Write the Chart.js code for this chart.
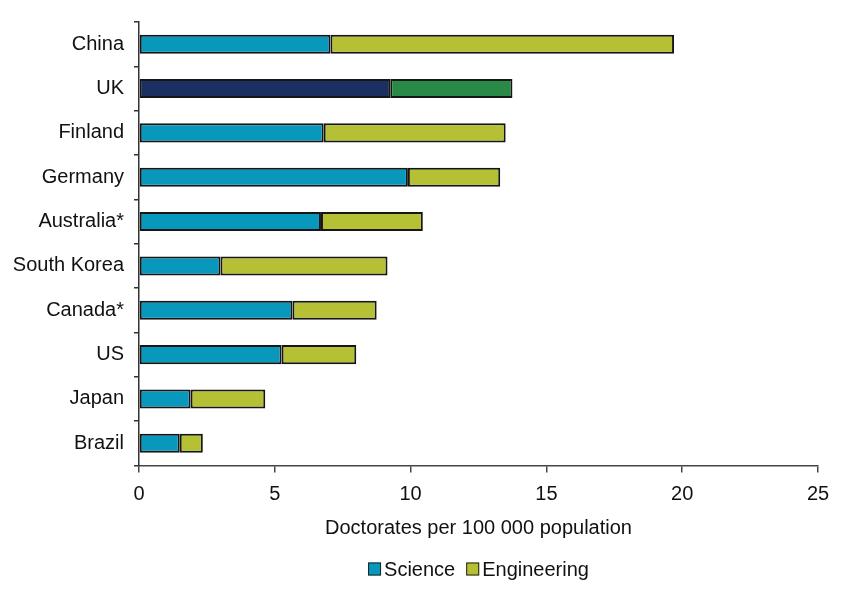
<!DOCTYPE html>
<html>
<head>
<meta charset="utf-8">
<script src="https://cdn.jsdelivr.net/npm/chart.js@4"></script>
<style>
  html, body { margin: 0; padding: 0; background: #fff; }
  #wrap { width: 849px; height: 590px; position: relative; }
</style>
</head>
<body>
<div id="wrap"><canvas id="chart"></canvas></div>
<script>
// data
const countries = ['China', 'UK', 'Finland', 'Germany', 'Australia*', 'South Korea', 'Canada*', 'US', 'Japan', 'Brazil'];
const science = [7.05, 9.25, 6.8, 9.9, 6.7, 3.0, 5.65, 5.25, 1.9, 1.5];
const engineering = [12.65, 4.5, 6.7, 3.4, 3.75, 6.15, 3.1, 2.75, 2.75, 0.85];
const xTicks = [0, 5, 10, 15, 20, 25];

const scienceColor = '#0898bb';
const engineeringColor = '#b5c035';
// the UK bar is highlighted in other colours
const ukScience = '#1b2f62';
const ukEngineering = '#288a46';

const FONT = '"Liberation Sans", Arial, sans-serif';
const TEXT = '#111';
const SIZE = 20;

function colorsFor(base, uk) {
  return countries.map(c => c === 'UK' ? uk : base);
}

// legend drawn by hand so it sits under the plot centre with tight spacing
const bottomLegend = {
  id: 'bottomLegend',
  afterDraw(chart) {
    const ctx = chart.ctx;
    const area = chart.chartArea;
    const items = chart.data.datasets.map(ds => ({ text: ds.label, color: ds.legendColor }));
    const box = 13, gap = 3, itemGap = 11, y = 569;
    ctx.save();
    ctx.font = SIZE + 'px ' + FONT;
    let total = 0;
    items.forEach((it, i) => {
      it.w = ctx.measureText(it.text).width;
      total += box + gap + it.w + (i ? itemGap : 0);
    });
    let x = (area.left + area.right) / 2 - total / 2;
    ctx.textBaseline = 'middle';
    items.forEach((it, i) => {
      if (i) x += itemGap;
      ctx.fillStyle = it.color;
      ctx.fillRect(x, y - box / 2, box, box);
      ctx.strokeStyle = '#222';
      ctx.lineWidth = 1;
      ctx.strokeRect(x + 0.5, y - box / 2 + 0.5, box - 1, box - 1);
      ctx.fillStyle = TEXT;
      ctx.fillText(it.text, x + box + gap, y + 1);
      x += box + gap + it.w;
    });
    ctx.restore();
  }
};

new Chart(document.getElementById('chart'), {
  type: 'bar',
  data: {
    labels: countries,
    datasets: [{
      label: 'Science',
      data: science,
      backgroundColor: colorsFor(scienceColor, ukScience),
      legendColor: scienceColor
    }, {
      label: 'Engineering',
      data: engineering,
      backgroundColor: colorsFor(engineeringColor, ukEngineering),
      legendColor: engineeringColor
    }]
  },
  options: {
    indexAxis: 'y',
    responsive: true,
    maintainAspectRatio: false,
    animation: false,
    devicePixelRatio: 1,
    layout: { padding: { top: 21, right: 31, left: 0, bottom: 0 } },
    datasets: {
      bar: {
        categoryPercentage: 1,
        barPercentage: 0.43,
        borderColor: '#161616',
        borderWidth: 2,
        borderSkipped: false
      }
    },
    plugins: {
      legend: { display: false },
      tooltip: { enabled: false }
    },
    scales: {
      x: {
        stacked: true,
        min: 0,
        max: 25,
        afterBuildTicks: axis => { axis.ticks = xTicks.map(v => ({ value: v })); },
        afterFit: axis => { axis.height = 124.5; },
        grid: { drawOnChartArea: false, tickLength: 7, color: '#444', lineWidth: 1.5 },
        border: { color: '#444', width: 1.5 },
        ticks: { padding: 10, color: TEXT, font: { family: FONT, size: SIZE } },
        title: {
          display: true,
          text: 'Doctorates per 100 000 population',
          color: TEXT,
          font: { family: FONT, size: SIZE },
          padding: { top: 0, bottom: 50 }
        }
      },
      y: {
        stacked: true,
        afterFit: axis => { axis.width = 139; },
        grid: { drawOnChartArea: false, tickLength: 5, color: '#333', lineWidth: 1.5, offset: true },
        border: { color: '#333', width: 1.5 },
        ticks: { padding: 10, color: TEXT, font: { family: FONT, size: SIZE } }
      }
    }
  },
  plugins: [bottomLegend]
});
</script>
</body>
</html>
